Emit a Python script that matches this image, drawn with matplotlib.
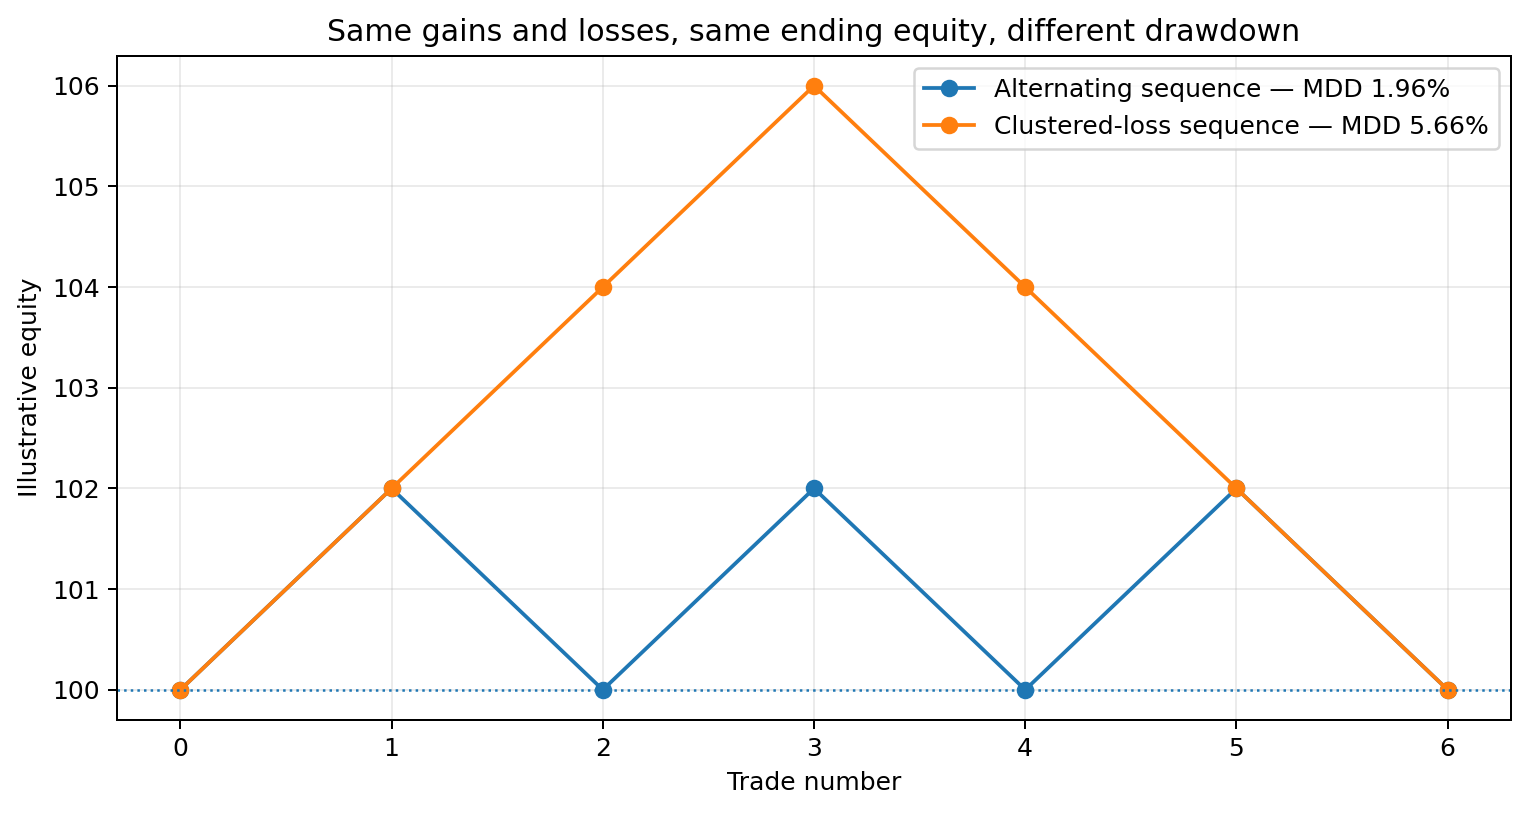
import matplotlib.pyplot as plt

# trade index and two equity paths with identical gains/losses
trades = [0, 1, 2, 3, 4, 5, 6]
alternating = [100, 102, 100, 102, 100, 102, 100]
clustered = [100, 102, 104, 106, 104, 102, 100]
labels = ["Alternating sequence \u2014 MDD 1.96%",
          "Clustered-loss sequence \u2014 MDD 5.66%"]
baseline = 100

fig, ax = plt.subplots(figsize=(1530 / 180, 814 / 180), dpi=180)
fig.subplots_adjust(left=0.0765, right=0.9876, top=0.9318, bottom=0.1155)

ax.plot(trades, alternating, marker="o", label=labels[0])
ax.plot(trades, clustered, marker="o", label=labels[1])
ax.axhline(baseline, linestyle=":", linewidth=1)

ax.set_title("Same gains and losses, same ending equity, different drawdown")
ax.set_xlabel("Trade number")
ax.set_ylabel("Illustrative equity")
ax.grid(True, alpha=0.25)
ax.legend(loc="upper right")

fig.savefig("out.png", dpi=180)
